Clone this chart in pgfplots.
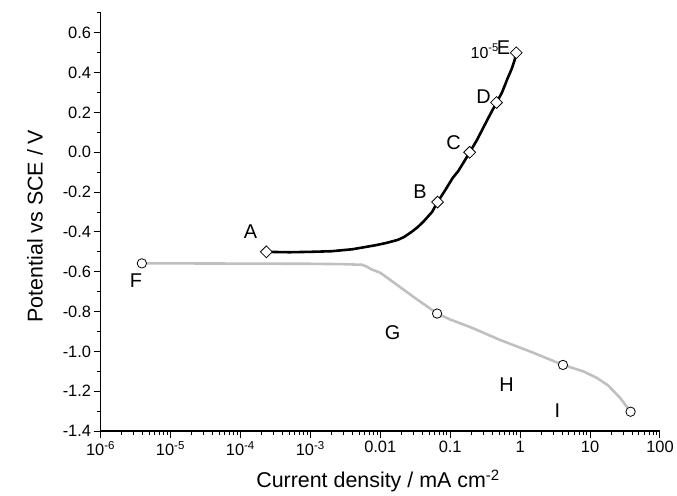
\documentclass[border=0pt]{standalone}
\usepackage{fontspec}
\setmainfont{Liberation Sans}
\usepackage{pgfplots}
\pgfplotsset{compat=1.18}
\definecolor{curvegray}{RGB}{192,192,192}

\begin{document}
\begin{tikzpicture}
\begin{axis}[
  scale only axis,
  width=562pt, height=420pt,
  xmode=log, xmin=1e-6, xmax=100,
  ymin=-1.4, ymax=0.7,
  axis x line*=bottom, axis y line*=left,
  axis line style={line width=1.2pt, -},
  tick align=outside,
  major tick length=7pt, minor tick length=4pt,
  tick style={line width=1pt, black},
  xtick={1e-6,1e-5,1e-4,1e-3,1e-2,1e-1,1,10,100},
  xticklabels={10\textsuperscript{-6},10\textsuperscript{-5},10\textsuperscript{-4},10\textsuperscript{-3},0.01,0.1,1,10,100},
  minor xtick={2e-6,3e-6,4e-6,5e-6,6e-6,7e-6,8e-6,9e-6,
    2e-5,3e-5,4e-5,5e-5,6e-5,7e-5,8e-5,9e-5,
    2e-4,3e-4,4e-4,5e-4,6e-4,7e-4,8e-4,9e-4,
    2e-3,3e-3,4e-3,5e-3,6e-3,7e-3,8e-3,9e-3,
    0.02,0.03,0.04,0.05,0.06,0.07,0.08,0.09,
    0.2,0.3,0.4,0.5,0.6,0.7,0.8,0.9,
    2,3,4,5,6,7,8,9,
    20,30,40,50,60,70,80,90},
  ytick={-1.4,-1.2,-1.0,-0.8,-0.6,-0.4,-0.2,0.0,0.2,0.4,0.6},
  yticklabels={-1.4,-1.2,-1.0,-0.8,-0.6,-0.4,-0.2,0.0,0.2,0.4,0.6},
  minor ytick={-1.3,-1.1,-0.9,-0.7,-0.5,-0.3,-0.1,0.1,0.3,0.5,0.7},
  ticklabel style={font=\fontsize{16.5}{19}\selectfont},
  yticklabel style={xshift=1pt},
  label style={font=\fontsize{21.5}{24}\selectfont},
  xlabel={Current density / mA cm\textsuperscript{-2}},
  ylabel={Potential vs SCE / V},
  xlabel style={at={(axis description cs:0.496,-0.119)}, anchor=center},
  ylabel style={at={(axis description cs:-0.117,0.49)}, anchor=center},
  clip=false,
]
% cathodic branch
\addplot[curvegray, line width=2.6pt] coordinates {
  (3.9e-6,-0.558) (1e-5,-0.558) (1e-4,-0.559) (1e-3,-0.560) (3e-3,-0.562)
  (5.5e-3,-0.565) (6.5e-3,-0.575) (7.5e-3,-0.588) (0.01,-0.605) (0.0129,-0.633)
  (0.018,-0.67) (0.029,-0.723) (0.045,-0.77) (0.065,-0.81) (0.1,-0.84)
  (0.2,-0.88) (0.52,-0.943) (1.5,-1.005) (4.1,-1.068) (8,-1.10)
  (12.5,-1.133) (18,-1.17) (26.8,-1.233) (38,-1.303)
};
% anodic branch
\addplot[black, line width=2.6pt] coordinates {
  (2.35e-4,-0.50) (5e-4,-0.502) (1e-3,-0.50) (2e-3,-0.497) (4e-3,-0.487)
  (8.5e-3,-0.467) (0.012,-0.456) (0.0178,-0.44) (0.022,-0.425) (0.028,-0.40)
  (0.034,-0.377) (0.041,-0.35) (0.055,-0.30)
  (0.066,-0.25) (0.085,-0.19) (0.108,-0.13) (0.13,-0.095) (0.15,-0.06)
  (0.19,0.0) (0.24,0.06) (0.29,0.116) (0.36,0.18) (0.46,0.25)
  (0.55,0.30) (0.66,0.37) (0.76,0.42) (0.83,0.46) (0.88,0.5)
};
\addplot[only marks, mark=square*, mark size=4.2pt,
  mark options={rotate=45, fill=white, draw=black, line width=0.8pt}] coordinates {
  (2.35e-4,-0.50) (0.066,-0.25) (0.19,0.0) (0.46,0.25) (0.88,0.5)
};
\addplot[only marks, mark=*, mark size=4.7pt,
  mark options={fill=white, draw=black, line width=0.8pt}] coordinates {
  (3.9e-6,-0.558) (0.065,-0.81) (4.1,-1.068) (38,-1.303)
};
\begin{scope}[every node/.style={font=\fontsize{20}{22}\selectfont}]
\node[font=\fontsize{16}{18}\selectfont, anchor=east, inner sep=0pt] at (axis cs:0.50,0.507) {10\textsuperscript{-5}};
\node at (axis cs:1.39e-4,-0.40) {A};
\node at (axis cs:0.037,-0.20) {B};
\node at (axis cs:0.112,0.047) {C};
\node at (axis cs:0.30,0.28) {D};
\node at (axis cs:0.577,0.525) {E};
\node at (axis cs:3.2e-6,-0.647) {F};
\node at (axis cs:0.015,-0.908) {G};
\node at (axis cs:0.64,-1.168) {H};
\node at (axis cs:3.4,-1.30) {I};
\end{scope}
\end{axis}
\path ([xshift=-101pt,yshift=-63pt]current axis.south west) rectangle ([xshift=14pt,yshift=13pt]current axis.north east);
\end{tikzpicture}
\end{document}
